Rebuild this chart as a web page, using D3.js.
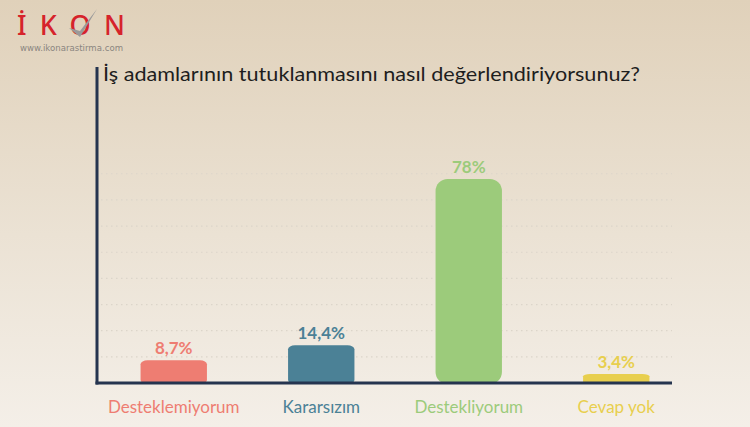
<!DOCTYPE html>
<html><head><meta charset="utf-8">
<script src="https://cdn.jsdelivr.net/npm/d3@7"></script>
<style>body{margin:0;overflow:hidden}svg{display:block}</style>
</head><body>
<script>
const categories = ["Desteklemiyorum", "Kararsızım", "Destekliyorum", "Cevap yok"];
const values = [8.7, 14.4, 78, 3.4];
const valueLabels = ["8,7%", "14,4%", "78%", "3,4%"];
const colors = ["#ee7d72", "#4b8196", "#9ccb7b", "#e8cf4e"];
const gridTicks = [10, 20, 30, 40, 50, 60, 70, 80];
const title = "İş adamlarının tutuklanmasını nasıl değerlendiriyorsunuz?";

const W = 750, H = 427;
const svg = d3.select("body").append("svg").attr("width", W).attr("height", H);
const defs = svg.append("defs");
const bg = defs.append("linearGradient").attr("id", "bg").attr("x1", 0).attr("y1", 0).attr("x2", 0).attr("y2", 1);
bg.append("stop").attr("offset", "0%").attr("stop-color", "#e0d1ba");
bg.append("stop").attr("offset", "55%").attr("stop-color", "#ebe2d4");
bg.append("stop").attr("offset", "100%").attr("stop-color", "#f4efe8");
svg.append("rect").attr("width", W).attr("height", H).attr("fill", "url(#bg)");

const x0 = 97, baseY = 383, xEnd = 672;
const x = d3.scaleBand().domain(categories).range([100, 690]).paddingInner(0.55).paddingOuter(0.275);
const y = d3.scaleLinear().domain([0, 78]).range([baseY, 179]);

// gridlines
svg.append("g").selectAll("line").data(gridTicks).join("line")
  .attr("x1", x0 + 4).attr("x2", xEnd).attr("y1", d => y(d)).attr("y2", d => y(d))
  .attr("stroke", "#dcd5ca").attr("stroke-width", 1.2).attr("stroke-dasharray", "1.5,3.5");

// bars
svg.append("g").selectAll("rect").data(values).join("rect")
  .attr("x", (d, i) => x(categories[i]))
  .attr("y", d => y(d))
  .attr("width", x.bandwidth())
  .attr("height", d => baseY - y(d) + 1)
  .attr("rx", d => (baseY - y(d)) > 60 ? 12 : 7)
  .attr("ry", d => (baseY - y(d)) > 60 ? 12 : Math.min(4, (baseY - y(d)) / 4))
  .attr("fill", (d, i) => colors[i]);

// value labels
svg.append("g").selectAll("text").data(values).join("text")
  .attr("x", (d, i) => x(categories[i]) + x.bandwidth() / 2)
  .attr("y", d => y(d) - 6)
  .attr("text-anchor", "middle")
  .attr("font-family", "Lato, sans-serif").attr("font-weight", 700).attr("font-size", 17)
  .attr("fill", (d, i) => colors[i])
  .text((d, i) => valueLabels[i]);

// category labels
svg.append("g").selectAll("text").data(categories).join("text")
  .attr("x", d => x(d) + x.bandwidth() / 2)
  .attr("y", 413)
  .attr("text-anchor", "middle")
  .attr("font-family", "Lato, sans-serif").attr("font-size", 17)
  .attr("fill", (d, i) => colors[i])
  .text(d => d);

// axes
svg.append("line").attr("x1", x0).attr("x2", x0).attr("y1", 67).attr("y2", baseY + 1.5)
  .attr("stroke", "#25344f").attr("stroke-width", 3);
svg.append("line").attr("x1", x0 - 1.5).attr("x2", xEnd).attr("y1", baseY).attr("y2", baseY)
  .attr("stroke", "#25344f").attr("stroke-width", 3);

// title
svg.append("text").attr("x", 103).attr("y", 81)
  .attr("font-family", "Lato, sans-serif").attr("font-size", 20).attr("fill", "#1e1e1e")
  .attr("textLength", 537).attr("lengthAdjust", "spacingAndGlyphs")
  .text(title);

// logo
svg.append("text").attr("x", 17).attr("y", 35)
  .attr("font-family", "Noto Sans, sans-serif").attr("font-weight", 500).attr("font-size", 27)
  .attr("fill", "#d6232b").attr("textLength", 108).attr("lengthAdjust", "spacing")
  .text("İKON");
svg.append("path").attr("d", "M69,28 L80,37 L97,9 L80,31 Z")
  .attr("fill", "#9a9a9a");
svg.append("text").attr("x", 20).attr("y", 50.5)
  .attr("font-family", "DejaVu Sans, sans-serif").attr("font-size", 8).attr("fill", "#8a8580")
  .attr("textLength", 103).attr("lengthAdjust", "spacingAndGlyphs")
  .text("www.ikonarastirma.com");
</script>
</body></html>
